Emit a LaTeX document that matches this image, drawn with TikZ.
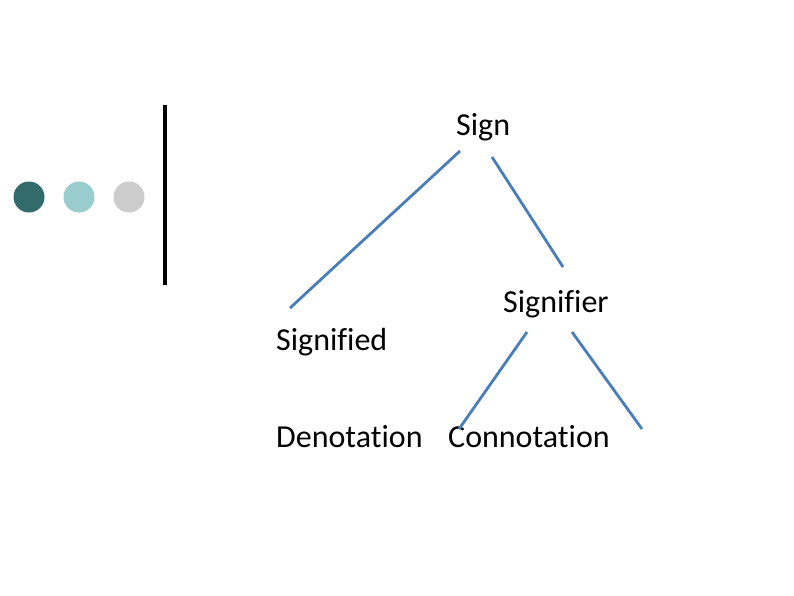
\documentclass[tikz,border=0pt]{standalone}
\usepackage{fontspec}
\setmainfont[Ligatures=NoCommon]{Carlito}
\definecolor{darkteal}{HTML}{336B6B}
\definecolor{lightteal}{HTML}{99CCCC}
\definecolor{lightgray}{HTML}{CCCCCC}
\definecolor{lineblue}{HTML}{4A7EBB}
\tikzset{word/.style={anchor=base west, inner sep=0pt, font=\fontsize{32}{36}\selectfont},
  branch/.style={draw=lineblue, line width=2.8pt}}

\begin{document}
\begin{tikzpicture}[x=1pt, y=-1pt]
\useasboundingbox (0,0) rectangle (794,595);
% bullets and bar
\fill[darkteal] (29,197) circle (15.5);
\fill[lightteal] (79,197) circle (15.5);
\fill[lightgray] (129,197) circle (15.5);
\draw[line width=3.2pt] (165,105) -- (165,285);
% words
\node[word] (sign) at (456,135) {Sign};
\node[word] (signifier) at (503,312) {Signifier};
\node[word] (signified) at (276,350) {Signified};
\node[word] (denotation) at (276,447) {Denotation};
\node[word] (connotation) at (448,447) {Connotation};
% line ends
\coordinate (signL) at (460,151);
\coordinate (signR) at (492,157);
\coordinate (signifiedT) at (290,308);
\coordinate (signifierT) at (563,267);
\coordinate (signifierL) at (527,332);
\coordinate (signifierR) at (572,332);
\coordinate (connotationT) at (459,429);
\coordinate (freeR) at (642,429);
% branches
\draw[branch] (signL) -- (signifiedT);
\draw[branch] (signR) -- (signifierT);
\draw[branch] (signifierL) -- (connotationT);
\draw[branch] (signifierR) -- (freeR);
\end{tikzpicture}
\end{document}
